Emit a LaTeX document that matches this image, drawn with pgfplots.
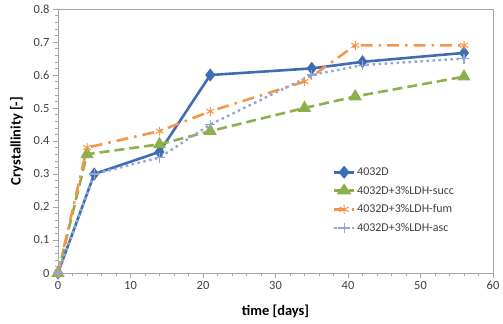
\documentclass[border=0pt]{standalone}
\usepackage{fontspec}
\setmainfont{Carlito}
\usepackage{pgfplots}
\pgfplotsset{compat=1.18}
\definecolor{cblue}{HTML}{3E6DB3}
\definecolor{cgreen}{HTML}{8BB04C}
\definecolor{corange}{HTML}{F4964A}
\definecolor{casc}{HTML}{93A4D6}
\definecolor{cframe}{HTML}{A6A6A6}
\definecolor{ctext}{HTML}{404040}
\begin{document}
\begin{tikzpicture}[x=1bp,y=1bp]
\useasboundingbox (-58,-50) rectangle (445,273);
\begin{axis}[
  at={(0,0)}, anchor=origin,
  scale only axis, width=435bp, height=264bp,
  xmin=0, xmax=60, ymin=0, ymax=0.8,
  xtick={0,10,...,60}, ytick={0,0.1,...,0.8},
  minor x tick num=4, minor y tick num=4,
  tick align=outside,
  major tick length=5bp, minor tick length=3bp,
  axis line style={cframe},
  every tick/.style={cframe},
  tick style={cframe},
  ticklabel style={font=\fontsize{12.5}{13}\selectfont, text=ctext},
  /pgf/number format/assume math mode=true,
  yticklabel={\ifdim\tick pt=0pt 0\else\pgfmathprintnumber[fixed,fixed zerofill,precision=1]{\tick}\fi},
  xlabel={\textbf{time [days]}},
  ylabel={\textbf{Crystallinity [-]}},
  label style={font=\fontsize{14.5}{15}\selectfont, text=black},
  xlabel style={yshift=-8bp},
  ylabel style={yshift=4bp},
  axis x line*=bottom, axis y line*=left,
  every axis plot/.append style={line width=2.6bp},
  legend style={draw=none, fill=none, at={(0.625,0.415)}, anchor=north west,
    font=\fontsize{12}{13}\selectfont, text=ctext, row sep=5bp,
    cells={anchor=west}},
  legend image post style={xscale=1.15},
  clip=false,
]
\draw[cframe, line width=0.8bp] (axis cs:0,0.8) -- (axis cs:60,0.8) -- (axis cs:60,0);
\addplot[cblue, mark=diamond*, mark size=4.5bp, mark options={solid}] coordinates {
(0,0) (5,0.30) (14,0.367) (21,0.60) (35,0.62) (42,0.64) (56,0.667)};
\addlegendentry{4032D}
\addplot[cgreen, dashed, dash pattern=on 10bp off 5bp, mark=triangle*, mark size=5bp, mark options={solid}] coordinates {
(0,0) (4,0.36) (14,0.39) (21,0.43) (34,0.50) (41,0.535) (56,0.595)};
\addlegendentry{4032D+3\%LDH-succ}
\addplot[corange, dash pattern=on 12bp off 6bp on 2.5bp off 6bp, mark=asterisk, mark size=4.5bp, mark options={solid, line width=1bp}] coordinates {
(0,0) (4,0.38) (14,0.43) (21,0.49) (34,0.58) (41,0.69) (56,0.69)};
\addlegendentry{4032D+3\%LDH-fum}
\addplot[casc, dash pattern=on 2.5bp off 3.5bp, line width=2.4bp, mark=+, mark size=5bp, mark options={solid, line width=1.2bp}] coordinates {
(0,0) (5,0.30) (14,0.35) (21,0.45) (35,0.60) (42,0.63) (56,0.65)};
\addlegendentry{4032D+3\%LDH-asc}
\end{axis}
\end{tikzpicture}
\end{document}
